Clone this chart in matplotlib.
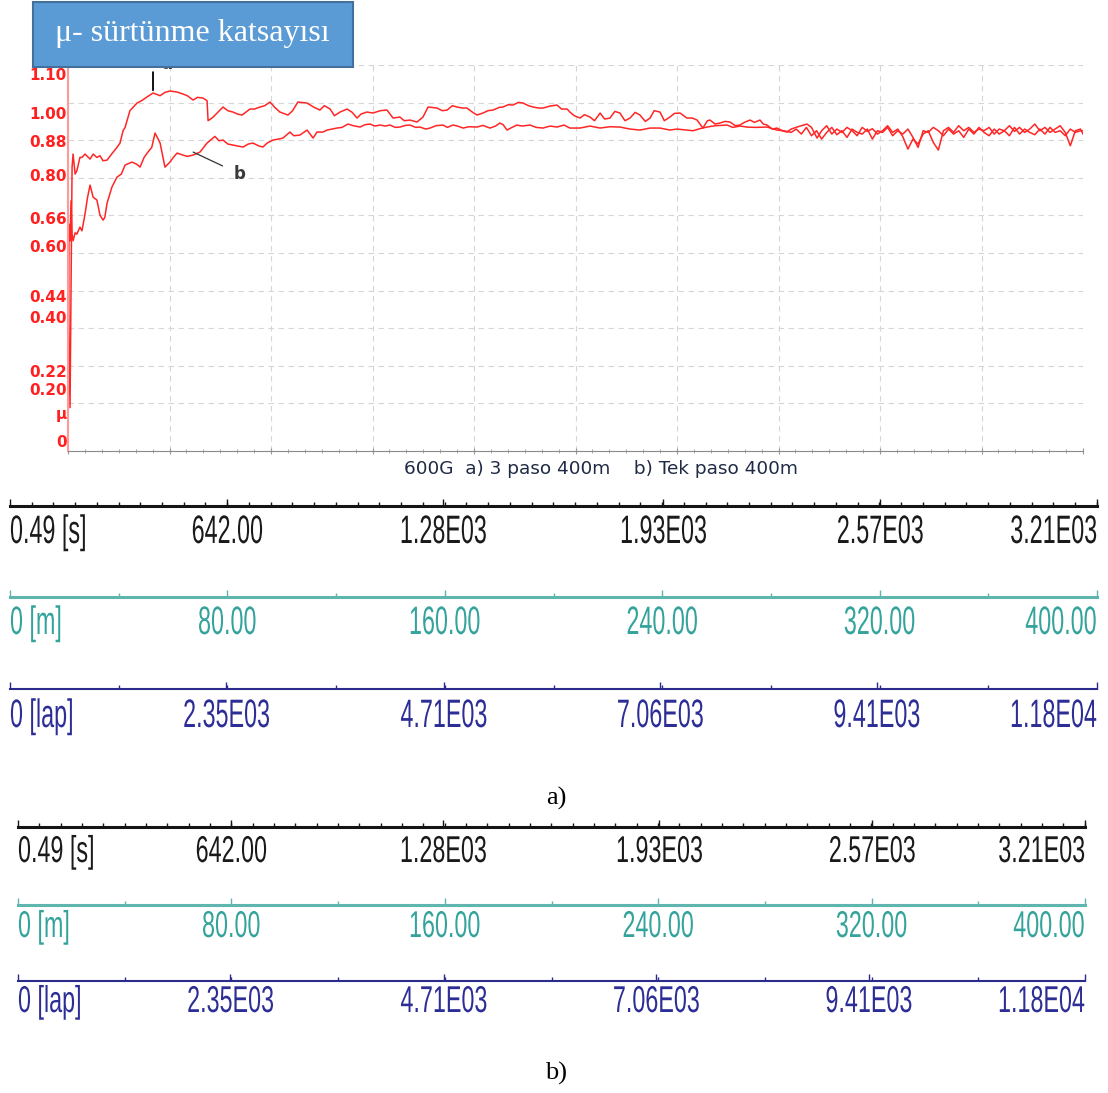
import matplotlib
matplotlib.use("Agg")
import matplotlib.pyplot as plt
from matplotlib.patches import Rectangle
from matplotlib.patheffects import AbstractPathEffect
from matplotlib.transforms import Affine2D
from matplotlib.ticker import FixedLocator, MultipleLocator

# friction coefficient vs sliding distance [m]
# a) 3 paso 400m
a_m = [0, 0.4, 0.8, 1.2, 1.6, 2.0, 2.8, 3.5, 4.7, 5.5, 6.7, 8.7, 9.9, 11.4, 12.6, 13.8,
       15.4, 17.7, 19.3, 20.5, 21.7, 22.5, 24.4, 27.2, 29.0, 31.1, 33.5, 36.3, 38.2, 40.2,
       43.0, 45.3, 47.0, 49.3, 51.0, 53.2, 54.8, 55.2, 57.1, 59.0, 61.1, 63.0, 65.0, 66.8,
       68.6, 71.7, 73.5, 75.7, 77.5, 79.6, 81.5, 83.5, 86.7, 88.5, 90.6, 94.2, 97.0, 99.3,
       101.0, 103.3, 105.0, 107.2, 110.0, 112.0, 113.9, 115.5, 117.8, 120.2, 123.0, 125.7,
       128.1, 130.8, 132.5, 134.8, 137.5, 139.9, 141.9, 145.4, 147.5, 149.4, 151.5, 153.3,
       155.5, 157.2, 159.5, 161.2, 163.5, 165.5, 167.5, 170.0, 171.4, 173.5, 175.4, 177.5,
       179.3, 181.5, 183.3, 185.5, 187.2, 190.0, 192.7, 194.5, 196.7, 197.8, 199.5, 201.8,
       203.5, 205.7, 207.5, 209.7, 211.5, 213.6, 215.5, 217.5, 219.5, 221.5, 223.5, 225.4,
       227.5, 229.4, 231.0, 233.3, 235.0, 237.2, 239.0, 241.2, 243.9, 246.0, 247.9, 250.2,
       252.0, 253.0, 255.0, 256.9, 259.0, 260.9, 263.0, 264.8, 266.5, 268.8, 270.5, 272.7,
       274.0, 275.5, 277.5, 279.4, 281.5, 283.3, 285.0, 287.3, 289.0, 291.2, 293.0, 295.2,
       297, 299, 301, 303, 305, 307, 309, 311, 313, 315, 317, 319, 321, 323, 325, 327, 329,
       331, 333, 335, 337, 339, 341, 343, 345, 347, 349, 351, 353, 355, 357, 359, 361, 363,
       365, 367, 369, 371, 373, 375, 377, 379, 381, 383, 385, 387, 389, 391, 393, 395, 397,
       399, 400]
a_mu = [0.75, 0.30, 0.10, 0.45, 0.82, 0.86, 0.80, 0.81, 0.85, 0.85, 0.86, 0.845, 0.86, 0.85,
        0.855, 0.84, 0.842, 0.865, 0.88, 0.893, 0.93, 0.94, 0.99, 1.013, 1.02, 1.031, 1.043,
        1.035, 1.045, 1.049, 1.046, 1.04, 1.035, 1.022, 1.03, 1.028, 1.02, 0.96, 0.97, 0.985,
        1.001, 0.99, 0.986, 0.98, 0.977, 0.995, 0.995, 1.001, 1.005, 1.016, 1.0, 0.986, 0.977,
        0.99, 1.016, 1.013, 1.0, 0.992, 1.005, 0.995, 0.975, 0.986, 0.995, 0.985, 0.968, 0.98,
        0.986, 0.983, 0.99, 0.992, 0.968, 0.971, 0.96, 0.962, 0.956, 0.971, 1.001, 0.998, 0.99,
        0.992, 1.005, 1.001, 0.998, 0.998, 0.985, 0.977, 0.983, 0.99, 0.992, 1.0, 1.001, 1.008,
        1.007, 1.015, 1.013, 1.005, 1.001, 0.998, 0.998, 1.004, 1.007, 0.995, 0.995, 0.986,
        0.975, 0.968, 0.978, 0.971, 0.96, 0.983, 0.965, 0.968, 0.988, 0.983, 0.96, 0.968, 0.985,
        0.977, 0.958, 0.968, 0.99, 0.986, 0.96, 0.971, 0.982, 0.983, 0.968, 0.968, 0.962, 0.938,
        0.96, 0.962, 0.95, 0.953, 0.958, 0.956, 0.945, 0.947, 0.955, 0.962, 0.955, 0.962, 0.95,
        0.947, 0.935, 0.938, 0.93, 0.926, 0.935, 0.941, 0.945, 0.95, 0.94, 0.908,
        0.93, 0.945, 0.92, 0.935, 0.925, 0.94, 0.93, 0.915, 0.94, 0.928, 0.936, 0.92, 0.93,
        0.945, 0.925, 0.935, 0.912, 0.875, 0.905, 0.89, 0.92, 0.93, 0.895, 0.872, 0.93, 0.94,
        0.925, 0.945, 0.93, 0.94, 0.925, 0.935, 0.93, 0.94, 0.92, 0.935, 0.93, 0.945, 0.928,
        0.94, 0.925, 0.935, 0.95, 0.93, 0.94, 0.925, 0.935, 0.945, 0.925, 0.885, 0.93, 0.935,
        0.92]

# b) Tek paso 400m
b_m = [0, 0.4, 0.8, 1.2, 1.6, 2.0, 2.8, 3.5, 4.7, 5.5, 6.7, 7.7, 8.7, 9.9, 11.4, 12.6, 13.8,
       14.5, 15.4, 17.3, 19.3, 21.0, 22.5, 25.2, 27.0, 28.4, 30.0, 31.5, 33.0, 34.3, 35.2,
       36.3, 38.2, 40.2, 41.5, 43.0, 45.3, 47.0, 49.3, 52.0, 54.8, 57.9, 59.5, 61.1, 63.0,
       65.0, 69.0, 71.0, 72.9, 75.0, 76.8, 78.5, 80.8, 83.0, 84.7, 87.5, 89.0, 91.4, 94.2,
       96.6, 98.1, 100.5, 102.1, 104.0, 106.0, 108.0, 110.3, 112.5, 115.1, 117.0, 119.0,
       121.0, 123.0, 125.0, 126.9, 129.0, 130.8, 133.0, 134.8, 137.0, 138.7, 141.0, 142.7,
       145.0, 147.8, 149.5, 151.7, 153.5, 155.7, 158.0, 161.2, 163.5, 166.3, 168.5, 170.2,
       171.5, 173.0, 175.0, 176.9, 179.0, 182.1, 184.5, 187.2, 190.0, 192.7, 195.5, 197.8,
       201.8, 205.7, 209.7, 213.6, 217.5, 221.5, 225.4, 229.4, 233.3, 237.2, 240.0, 243.9,
       246.3, 249.0, 251.8, 255.0, 259.7, 262.0, 264.8, 267.6, 271.0, 275.5, 279.4, 282.0,
       285, 287, 289, 291, 293, 295, 297, 299, 301, 303, 305, 307, 309, 311, 313, 315, 317,
       319, 321, 323, 325, 327, 329, 331, 333, 335, 337, 339, 341, 343, 345, 347, 349, 351,
       353, 355, 357, 359, 361, 363, 365, 367, 369, 371, 373, 375, 377, 379, 381, 383, 385,
       387, 389, 391, 393, 395, 397, 399, 400]
b_mu = [0.2, 0.65, 0.60, 0.72, 0.62, 0.60, 0.624, 0.62, 0.641, 0.63, 0.68, 0.73, 0.767, 0.731,
        0.722, 0.677, 0.662, 0.67, 0.713, 0.761, 0.791, 0.80, 0.827, 0.836, 0.83, 0.821, 0.85,
        0.866, 0.88, 0.923, 0.91, 0.893, 0.821, 0.836, 0.85, 0.863, 0.857, 0.853, 0.857, 0.866,
        0.893, 0.913, 0.90, 0.902, 0.89, 0.887, 0.881, 0.89, 0.893, 0.885, 0.881, 0.893, 0.902,
        0.905, 0.908, 0.926, 0.915, 0.917, 0.932, 0.908, 0.926, 0.926, 0.932, 0.935, 0.938,
        0.94, 0.95, 0.945, 0.941, 0.948, 0.95, 0.944, 0.947, 0.944, 0.947, 0.94, 0.941, 0.946,
        0.947, 0.94, 0.941, 0.935, 0.938, 0.945, 0.947, 0.94, 0.947, 0.944, 0.938, 0.942, 0.941,
        0.946, 0.938, 0.944, 0.953, 0.948, 0.932, 0.94, 0.947, 0.944, 0.947, 0.94, 0.938, 0.944,
        0.941, 0.947, 0.938, 0.938, 0.944, 0.938, 0.942, 0.941, 0.935, 0.932, 0.938, 0.938,
        0.932, 0.935, 0.932, 0.93, 0.936, 0.941, 0.945, 0.947, 0.94, 0.944, 0.941, 0.94, 0.941,
        0.932, 0.93,
        0.925, 0.935, 0.92, 0.94, 0.915, 0.93, 0.905, 0.925, 0.94, 0.918, 0.93, 0.91, 0.935,
        0.925, 0.92, 0.935, 0.905, 0.93, 0.925, 0.94, 0.915, 0.93, 0.92, 0.935, 0.91, 0.88,
        0.93, 0.925, 0.94, 0.93, 0.915, 0.935, 0.92, 0.93, 0.91, 0.935, 0.92, 0.94, 0.925,
        0.915, 0.935, 0.92, 0.93, 0.915, 0.94, 0.92, 0.935, 0.925, 0.918, 0.935, 0.92, 0.94,
        0.925, 0.93, 0.915, 0.935, 0.925, 0.93, 0.93]

ytick_pos = [1.100, 0.983, 0.899, 0.797, 0.668, 0.585, 0.435, 0.372, 0.210, 0.156, 0.084, 0.0]
ytick_labels = ["1.10", "1.00", "0.88", "0.80", "0.66", "0.60", "0.44", "0.40", "0.22", "0.20", "μ", "0"]
grid_y = [1.127, 1.014, 0.902, 0.789, 0.676, 0.564, 0.451, 0.338, 0.225, 0.113, 0.0]

# bottom scale strips
time_ticks = [0.49, 642, 1280, 1930, 2570, 3210]
time_labels = ["0.49 [s]", "642.00", "1.28E03", "1.93E03", "2.57E03", "3.21E03"]
dist_ticks = [0, 80, 160, 240, 320, 400]
dist_labels = ["0 [m]", "80.00", "160.00", "240.00", "320.00", "400.00"]
lap_ticks = [0, 2350, 4710, 7060, 9410, 11800]
lap_labels = ["0 [lap]", "2.35E03", "4.71E03", "7.06E03", "9.41E03", "1.18E04"]

W, H = 1108, 1093
fig = plt.figure(figsize=(W / 100, H / 100), dpi=100)


def box(x0, y0, x1, y1):
    return [x0 / W, 1 - y1 / H, (x1 - x0) / W, (y1 - y0) / H]


class TallText(AbstractPathEffect):
    # stretch glyphs vertically about the baseline (narrow, tall look of the scale labels)
    def __init__(self, sy):
        super().__init__()
        self.sy = sy

    def draw_path(self, renderer, gc, tpath, affine, rgbFace=None):
        m = affine.get_matrix()
        x0, y0 = m[0, 2], m[1, 2]
        st = Affine2D().translate(-x0, -y0).scale(1, self.sy).translate(x0, y0)
        renderer.draw_path(gc, tpath, affine + st, rgbFace)


ax = fig.add_axes(box(68, 65, 1083, 451))
ax.plot(a_m, a_mu, color="#ff2626", lw=1.1)
ax.plot(b_m, b_mu, color="#ff2626", lw=1.1)
ax.set_xlim(0, 400)
ax.set_ylim(-0.03, 1.127)

ax.yaxis.set_major_locator(FixedLocator(ytick_pos))
ax.set_yticklabels(ytick_labels)
ax.yaxis.set_minor_locator(FixedLocator(grid_y))
ax.tick_params(axis="y", which="both", length=0, pad=1, colors="#ff2020")
for lab in ax.get_yticklabels():
    lab.set_fontsize(11)
    lab.set_fontweight("bold")
    lab.set_family("DejaVu Sans")

ax.xaxis.set_major_locator(MultipleLocator(40))
ax.xaxis.set_minor_locator(MultipleLocator(40 / 6))
ax.tick_params(axis="x", which="both", direction="inout", labelbottom=False, colors="#999999")
ax.tick_params(axis="x", which="major", length=5)
ax.tick_params(axis="x", which="minor", length=3)

ax.grid(which="minor", axis="y", color="#d6d6d6", linestyle=(0, (5, 4)), lw=0.8)
ax.grid(which="major", axis="x", color="#d6d6d6", linestyle=(0, (5, 4)), lw=0.8)
for s in ["top", "right"]:
    ax.spines[s].set_visible(False)
ax.spines["left"].set_color("#ff9a9a")
ax.spines["left"].set_linewidth(1.5)
ax.spines["bottom"].set_color("#8a8a8a")

ax.annotate("", xy=(33.5, 1.043), xytext=(33.5, 1.114),
            arrowprops=dict(arrowstyle="-", color="black", lw=1.3), annotation_clip=False)
ax.text(39, 1.13, "a", fontsize=12, fontweight="bold", color="#3a3a3a", ha="center",
        va="center", clip_on=False)
ax.annotate("b", xy=(49.3, 0.866), xytext=(67.8, 0.80), fontsize=12, fontweight="bold",
            color="#3a3a3a", ha="center", va="center",
            arrowprops=dict(arrowstyle="-", color="#333333", lw=0.9, shrinkA=7, shrinkB=0))

fig.text(601 / W, 1 - 469 / H, "600G  a) 3 paso 400m    b) Tek paso 400m",
         fontsize=13.3, color="#1f2a44", ha="center", va="center")

# title box
fig.patches.append(Rectangle((33 / W, 1 - 67 / H), 320 / W, 65 / H, transform=fig.transFigure,
                             facecolor="#5b9bd5", edgecolor="#41719c", lw=1.5, zorder=5))
fig.text(192 / W, 1 - 33 / H, "μ- sürtünme katsayısı", fontsize=23, color="white",
         family=["Liberation Serif", "DejaVu Serif"], ha="center", va="center", zorder=6)


def strip(x0, x1, y, ticks, labels, line_color, text_color, lw, n_minor, base_px, sy):
    s = fig.add_axes(box(x0, y - 1, x1, y))
    s.set_xlim(ticks[0], ticks[-1])
    s.set_ylim(0, 1)
    s.patch.set_visible(False)
    for k in ["top", "left", "right"]:
        s.spines[k].set_visible(False)
    s.spines["bottom"].set_color(line_color)
    s.spines["bottom"].set_linewidth(lw)
    s.set_yticks([])
    s.set_xticks(ticks)
    s.set_xticklabels(labels)
    step = (ticks[-1] - ticks[0]) / 5 / n_minor
    s.xaxis.set_minor_locator(MultipleLocator(step))
    s.tick_params(axis="x", which="both", direction="in", color=line_color, width=1)
    s.tick_params(axis="x", which="major", length=5, pad=base_px * 0.72, labelcolor=text_color)
    s.tick_params(axis="x", which="minor", length=3)
    labs = s.get_xticklabels()
    for lab in labs:
        lab.set_fontsize(16.8)
        lab.set_family(["Liberation Sans", "DejaVu Sans"])
        lab.set_va("baseline")
        lab.set_path_effects([TallText(sy)])
    labs[0].set_ha("left")
    labs[-1].set_ha("right")
    return s


black, teal, navy = "#151515", "#5fb6ae", "#2b2b8c"
black_t, teal_t, navy_t = "#1a1a1a", "#33a39b", "#2d2d96"

# a)
strip(10, 1097, 506, time_ticks, time_labels, black, black_t, 2.2, 10, 37, 1.7)
strip(10, 1097, 597, dist_ticks, dist_labels, teal, teal_t, 2.2, 2, 37, 1.7)
strip(10, 1097, 689, lap_ticks, lap_labels, navy, navy_t, 1.5, 2, 38, 1.7)
fig.text(556 / W, 1 - 798 / H, "a)", fontsize=19, family=["Liberation Serif", "DejaVu Serif"],
         ha="center", va="center")

# b)
strip(18, 1085, 827, time_ticks, time_labels, black, black_t, 2.2, 10, 35, 1.6)
strip(18, 1085, 905, dist_ticks, dist_labels, teal, teal_t, 2.2, 2, 32, 1.6)
strip(18, 1085, 981, lap_ticks, lap_labels, navy, navy_t, 1.5, 2, 31, 1.6)
fig.text(556 / W, 1 - 1073 / H, "b)", fontsize=19, family=["Liberation Serif", "DejaVu Serif"],
         ha="center", va="center")

fig.savefig("out.png", dpi=100)
